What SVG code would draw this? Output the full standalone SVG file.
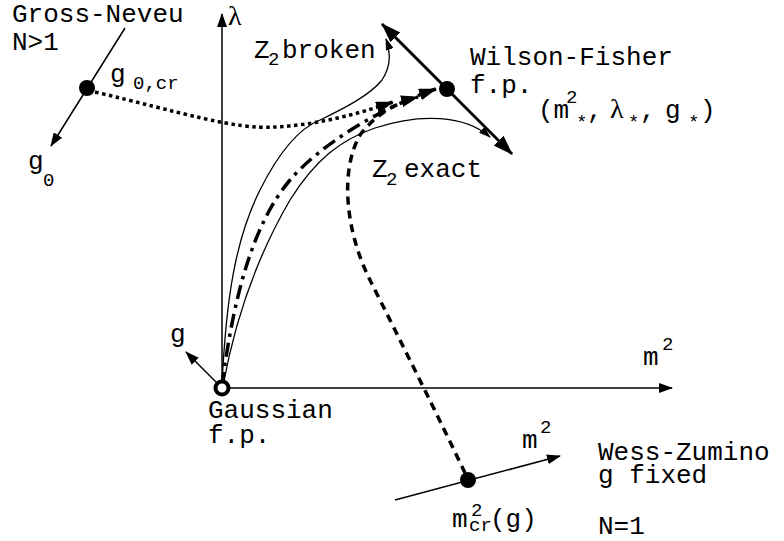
<svg xmlns="http://www.w3.org/2000/svg" width="784" height="541" viewBox="0 0 784 541">
<style>
text{font-family:"Liberation Mono","Courier New",monospace;font-size:26px;fill:#000}
.sub{font-size:19px}
.greek{font-family:"Liberation Serif","Times New Roman",serif;font-size:28px}
.ax{fill:none;stroke:#000;stroke-width:1.5}
.thin{fill:none;stroke:#000;stroke-width:1.3}
.thick{fill:none;stroke:#000;stroke-width:3}
.dot{fill:none;stroke:#000;stroke-width:3.5;stroke-dasharray:3.5 3.5}
.dash{fill:none;stroke:#000;stroke-width:3.5;stroke-dasharray:8 6}
.dashdot{fill:none;stroke:#000;stroke-width:3.5;stroke-dasharray:14 6 3.5 6}
</style>
<defs>
<marker id="ah" markerUnits="userSpaceOnUse" markerWidth="14" markerHeight="10" refX="13" refY="5" orient="auto"><path d="M0,0 L14,5 L0,10 z" fill="#000"/></marker>
<marker id="ahs" markerUnits="userSpaceOnUse" markerWidth="12" markerHeight="8" refX="11" refY="4" orient="auto"><path d="M0,0 L12,4 L0,8 z" fill="#000"/></marker>
<marker id="ahb" markerUnits="userSpaceOnUse" markerWidth="20" markerHeight="14" refX="19" refY="7" orient="auto-start-reverse"><path d="M0,0 L20,7 L0,14 z" fill="#000"/></marker>
<marker id="ahm" markerUnits="userSpaceOnUse" markerWidth="18" markerHeight="12" refX="17" refY="6" orient="auto"><path d="M0,0 L18,6 L0,12 z" fill="#000"/></marker>
</defs>

<g id="connectors">
  <line class="ax" x1="222" y1="388" x2="222" y2="14" marker-end="url(#ah)"/>
  <line class="ax" x1="230" y1="388" x2="672" y2="388" marker-end="url(#ah)"/>
  <line class="ax" x1="217" y1="383" x2="186" y2="352" marker-end="url(#ah)"/>
  <line class="ax" x1="125" y1="28" x2="51" y2="146" marker-end="url(#ah)"/>
  <line class="thick" x1="382" y1="24" x2="512" y2="154" marker-start="url(#ahb)" marker-end="url(#ahb)"/>
  <line class="ax" x1="395" y1="500" x2="560" y2="456" marker-end="url(#ah)"/>
  <path class="thin" d="M222,385 C226,300 235,240 260,190 C280,150 300,128 320,120 C345,108 370,95 382,80 C392,65 390,50 386,39" marker-end="url(#ahs)"/>
  <path class="thin" d="M223,386 C235,320 255,260 290,200 C315,160 340,140 375,128 C420,113 465,115 490,137" marker-end="url(#ahs)"/>
  <path class="dashdot" d="M222,386 C233,300 252,225 290,180 C320,145 380,108 436,89" marker-end="url(#ahm)"/>
  <path class="dash" d="M465,473 C440,420 400,340 370,280 C345,230 340,170 360,135 C375,115 395,103 418,97" marker-end="url(#ahm)"/>
  <path class="dot" d="M95,92 C180,112 235,130 275,127 C315,125 355,115 393,102" marker-end="url(#ahm)"/>
</g>

<g id="gaussian">
  <circle cx="222" cy="388" r="6.5" fill="#fff" stroke="#000" stroke-width="4"/>
  <text x="208" y="418">Gaussian</text>
  <text x="208" y="443">f.p.</text>
</g>

<g id="axes-labels">
  <text class="greek" x="228" y="25">λ</text>
  <text x="643" y="365">m<tspan class="sub" x="662" y="350">2</tspan></text>
  <text x="170" y="342">g</text>
</g>

<g id="gross-neveu">
  <text x="12" y="22">Gross-Neveu</text>
  <text x="12" y="50">N&gt;1</text>
  <circle cx="87" cy="88" r="8" fill="#000"/>
  <text x="110" y="82">g<tspan class="sub" x="133" y="89">0,cr</tspan></text>
  <text x="28" y="169">g<tspan class="sub" x="43" y="186">0</tspan></text>
</g>

<g id="wilson-fisher">
  <circle cx="447" cy="89" r="8" fill="#000"/>
  <text x="470" y="65">Wilson-Fisher</text>
  <text x="470" y="93">f.p.</text>
  <text x="538" y="118">(m<tspan class="sub" x="566" y="103">2</tspan><tspan class="sub" x="576" y="128">*</tspan><tspan x="587" y="118">,</tspan><tspan class="greek" x="610" y="118">λ</tspan><tspan class="sub" x="628" y="128">*</tspan><tspan x="640" y="118">,</tspan><tspan x="665" y="118">g</tspan><tspan class="sub" x="688" y="128">*</tspan><tspan x="700" y="118">)</tspan></text>
</g>

<g id="z2-broken">
  <text x="254" y="58">Z<tspan class="sub" x="268" y="65">2</tspan><tspan x="282" y="58">broken</tspan></text>
</g>

<g id="z2-exact">
  <text x="372" y="177">Z<tspan class="sub" x="386" y="185">2</tspan><tspan x="404" y="177">exact</tspan></text>
</g>

<g id="wess-zumino">
  <circle cx="468" cy="480" r="8" fill="#000"/>
  <text x="522" y="448">m<tspan class="sub" x="540" y="433">2</tspan></text>
  <text x="598" y="460">Wess-Zumino</text>
  <text x="598" y="483">g fixed</text>
  <text x="598" y="534">N=1</text>
  <text x="452" y="527">m<tspan class="sub" x="471" y="516">2</tspan><tspan class="sub" x="469" y="531">cr</tspan><tspan x="490" y="527">(g)</tspan></text>
</g>
</svg>
